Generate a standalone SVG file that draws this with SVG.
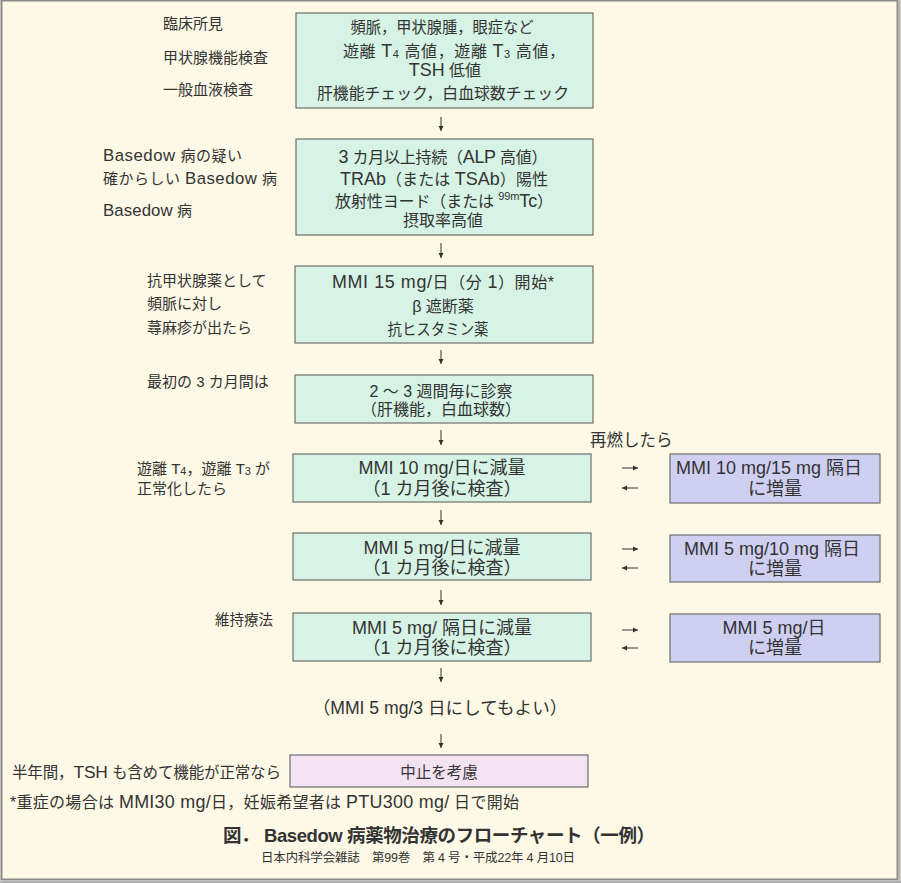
<svg xmlns="http://www.w3.org/2000/svg" width="901" height="883" viewBox="0 0 901 883">
<defs>
<style>
text{font-family:"Liberation Sans","Noto Sans CJK JP",sans-serif;fill:#333;}
.bt{font-size:16px;text-anchor:middle;dominant-baseline:central;}
.bb{font-size:18px;text-anchor:middle;dominant-baseline:central;}
.lb{font-size:15px;dominant-baseline:central;}
.L{font-size:1.12em;}
.g{fill:#d6f3e5;stroke:#6f6f6f;stroke-width:1.2;}
.p{fill:#cfcff2;stroke:#6f6f6f;stroke-width:1.2;}
.k{fill:#f3e3f2;stroke:#6f6f6f;stroke-width:1.2;}
.ar{stroke:#333;stroke-width:1;fill:none;marker-end:url(#ah);}
.sub{font-size:11px;}
</style>
<marker id="ah" markerWidth="6" markerHeight="6" refX="5" refY="3" orient="auto" markerUnits="userSpaceOnUse">
<path d="M0,0.5 L5,3 L0,5.5 z" fill="#333"/>
</marker>
</defs>
<rect x="0" y="0" width="901" height="883" fill="#fdf9e6"/>
<rect x="1.5" y="0.5" width="896" height="879" fill="none" stroke="#8a8a8a" stroke-width="2"/>
<line x1="899.5" y1="0" x2="899.5" y2="883" stroke="#b0b0b0" stroke-width="2"/>
<line x1="0" y1="882" x2="901" y2="882" stroke="#b0b0b0" stroke-width="2"/>

<g id="n1">
<rect class="g" x="296" y="13" width="297" height="95"/>
<text class="bt" x="442" y="27" textLength="183" lengthAdjust="spacingAndGlyphs">頻脈，甲状腺腫，眼症など</text>
<text class="bt" x="454" y="51" textLength="222">遊離 <tspan class="L">T</tspan><tspan class="sub" dy="3">4</tspan><tspan dy="-3"> 高値，遊離 </tspan><tspan class="L">T</tspan><tspan class="sub" dy="3">3</tspan><tspan dy="-3"> 高値，</tspan></text>
<text class="bt" x="445" y="70"><tspan class="L">TSH</tspan> 低値</text>
<text class="bt" x="443" y="93" textLength="252" lengthAdjust="spacingAndGlyphs">肝機能チェック，白血球数チェック</text>
</g>
<g id="l1">
<text class="lb" x="163" y="23">臨床所見</text>
<text class="lb" x="163" y="57">甲状腺機能検査</text>
<text class="lb" x="163" y="89">一般血液検査</text>
</g>

<g id="n2">
<rect class="g" x="296" y="139" width="297" height="96"/>
<text class="bt" x="443" y="157" textLength="209"><tspan class="L">3</tspan> カ月以上持続（<tspan class="L">ALP</tspan> 高値）</text>
<text class="bt" x="444" y="179" textLength="208"><tspan class="L">TRAb</tspan>（または <tspan class="L">TSAb</tspan>）陽性</text>
<text class="bt" x="444" y="201" textLength="218">放射性ヨード（または <tspan class="sub" dy="-5">99m</tspan><tspan class="L" dy="5">Tc</tspan>）</text>
<text class="bt" x="443" y="220">摂取率高値</text>
</g>
<g id="l2">
<text class="lb" x="103" y="155" textLength="139"><tspan class="L">Basedow</tspan> 病の疑い</text>
<text class="lb" x="103" y="178" textLength="174">確からしい <tspan class="L">Basedow</tspan> 病</text>
<text class="lb" x="103" y="210" textLength="89"><tspan class="L">Basedow</tspan> 病</text>
</g>

<g id="n3">
<rect class="g" x="295" y="266" width="298" height="77"/>
<text class="bt" x="443" y="282" textLength="222"><tspan class="L">MMI 15 mg/</tspan>日（分 <tspan class="L">1</tspan>）開始*</text>
<text class="bt" x="443" y="306">β 遮断薬</text>
<text class="bt" x="438" y="329" textLength="101" lengthAdjust="spacingAndGlyphs">抗ヒスタミン薬</text>
</g>
<g id="l3">
<text class="lb" x="147" y="280">抗甲状腺薬として</text>
<text class="lb" x="147" y="303">頻脈に対し</text>
<text class="lb" x="147" y="327">蕁麻疹が出たら</text>
</g>

<g id="n4">
<rect class="g" x="295" y="375" width="298" height="48"/>
<text class="bt" x="441" y="391">2 ～ 3 週間毎に診察</text>
<text class="bt" x="441" y="409">（肝機能，白血球数）</text>
</g>
<g id="l4"><text class="lb" x="147" y="381">最初の 3 カ月間は</text></g>

<g id="l5">
<text class="lb" x="590" y="440" style="font-size:16.5px">再燃したら</text>
<text class="lb" x="137" y="468">遊離 T<tspan class="sub" dy="3">4</tspan><tspan dy="-3">，遊離 T</tspan><tspan class="sub" dy="3">3</tspan><tspan dy="-3"> が</tspan></text>
<text class="lb" x="137" y="488">正常化したら</text>
</g>
<g id="n5">
<rect class="g" x="293" y="454" width="298" height="48"/>
<text class="bb" x="442" y="468">MMI 10 mg/日に減量</text>
<text class="bb" x="442" y="489">（1 カ月後に検査）</text>
</g>
<g id="p5">
<rect class="p" x="670" y="454" width="210" height="49"/>
<text class="bb" x="769" y="468">MMI 10 mg/15 mg 隔日</text>
<text class="bb" x="775" y="489">に増量</text>
</g>

<g id="n6">
<rect class="g" x="293" y="533" width="298" height="47"/>
<text class="bb" x="442" y="548">MMI 5 mg/日に減量</text>
<text class="bb" x="442" y="568">（1 カ月後に検査）</text>
</g>
<g id="p6">
<rect class="p" x="670" y="535" width="210" height="47"/>
<text class="bb" x="772" y="549">MMI 5 mg/10 mg 隔日</text>
<text class="bb" x="775" y="569">に増量</text>
</g>

<g id="l7"><text class="lb" x="215" y="620" style="font-size:14.5px">維持療法</text></g>
<g id="n7">
<rect class="g" x="293" y="613" width="298" height="48"/>
<text class="bb" x="442" y="628">MMI 5 mg/ 隔日に減量</text>
<text class="bb" x="442" y="648">（1 カ月後に検査）</text>
</g>
<g id="p7">
<rect class="p" x="670" y="614" width="210" height="48"/>
<text class="bb" x="774" y="628">MMI 5 mg/日</text>
<text class="bb" x="775" y="648">に増量</text>
</g>

<g id="n8"><text class="bb" x="440" y="708" style="font-size:17.6px">（MMI 5 mg/3 日にしてもよい）</text></g>

<g id="n9">
<rect class="k" x="290" y="755" width="298" height="32"/>
<text class="bt" x="439" y="772" style="font-size:15.5px">中止を考慮</text>
</g>
<g id="l9"><text class="lb" x="12" y="772" style="font-size:15.5px" textLength="269">半年間，<tspan class="L">TSH</tspan> も含めて機能が正常なら</text></g>

<g id="notes">
<text class="lb" x="10" y="802" style="font-size:16px" textLength="509">*重症の場合は <tspan class="L">MMI30 mg/</tspan>日，妊娠希望者は <tspan class="L">PTU300 mg/</tspan> 日で開始</text>
<text x="223" y="835" textLength="432" style="font-size:18.5px;font-weight:bold;dominant-baseline:central;">図．  Basedow 病薬物治療のフローチャート（一例）</text>
<text x="418" y="858" textLength="314" style="font-size:12.5px;text-anchor:middle;dominant-baseline:central;">日本内科学会雑誌　第99巻　第 4 号・平成22年 4 月10日</text>
</g>

<g id="connectors">
<line class="ar" x1="441" y1="117" x2="441" y2="131"/>
<line class="ar" x1="441" y1="243" x2="441" y2="258"/>
<line class="ar" x1="441" y1="350" x2="441" y2="364"/>
<line class="ar" x1="441" y1="430" x2="441" y2="445"/>
<line class="ar" x1="441" y1="510" x2="441" y2="525"/>
<line class="ar" x1="441" y1="590" x2="441" y2="605"/>
<line class="ar" x1="441" y1="668" x2="441" y2="682"/>
<line class="ar" x1="441" y1="734" x2="441" y2="748"/>
<line class="ar" x1="622" y1="468" x2="638" y2="468"/>
<line class="ar" x1="638" y1="488" x2="622" y2="488"/>
<line class="ar" x1="622" y1="549" x2="638" y2="549"/>
<line class="ar" x1="638" y1="568" x2="622" y2="568"/>
<line class="ar" x1="622" y1="630" x2="638" y2="630"/>
<line class="ar" x1="638" y1="648" x2="622" y2="648"/>
</g>
</svg>
